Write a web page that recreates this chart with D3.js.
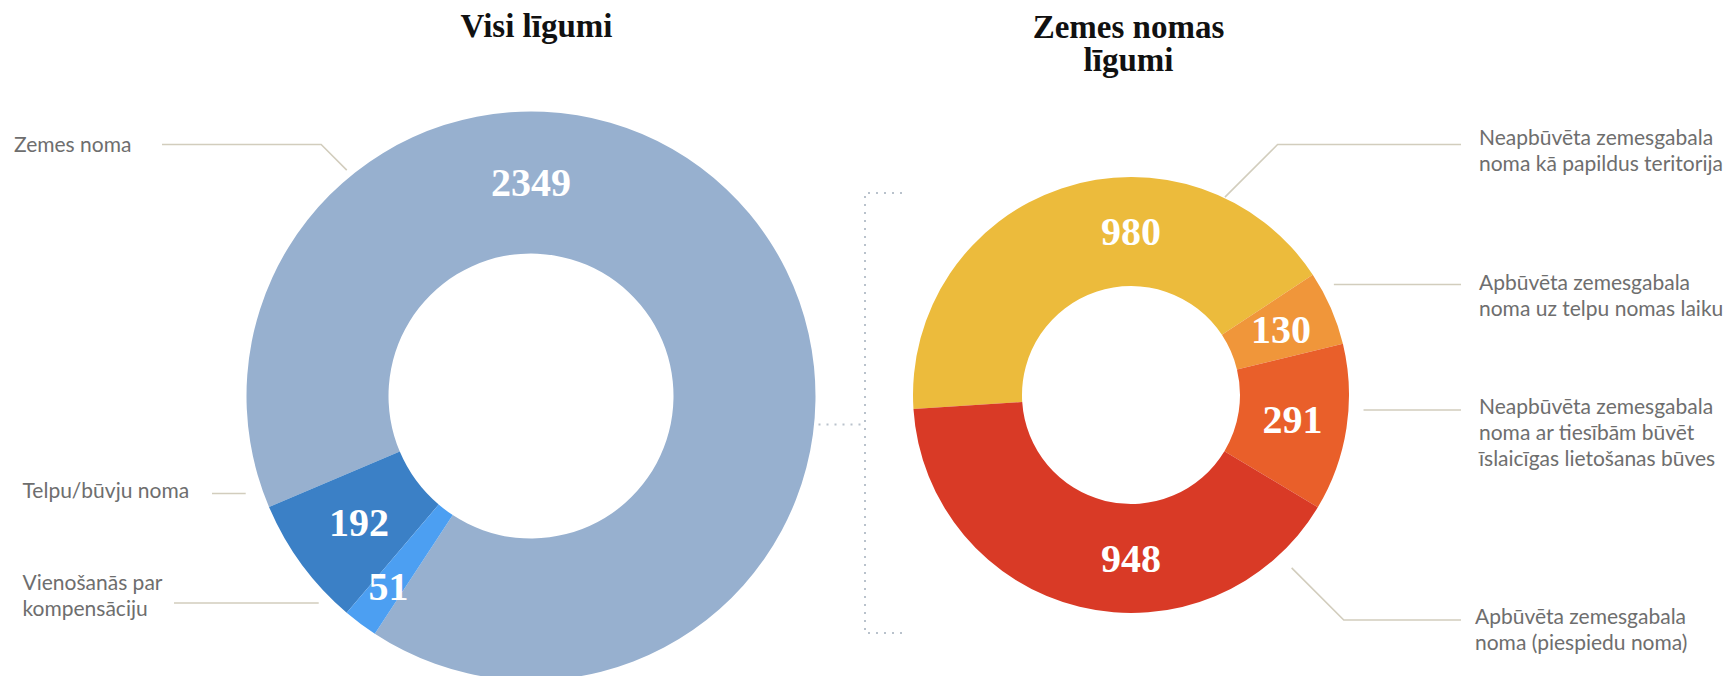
<!DOCTYPE html>
<html>
<head>
<meta charset="utf-8">
<script src="https://cdn.jsdelivr.net/npm/d3@7"></script>
<style>
  body { margin: 0; background: #fff; }
  .title { font-family: 'Liberation Serif', serif; font-weight: bold; font-size: 33px; fill: #111; }
  .value { font-family: 'Liberation Serif', serif; font-weight: bold; font-size: 40px; fill: #fff; }
  .callout { font-family: Lato, 'Noto Sans', sans-serif; font-size: 21px; fill: #6e6e6e; }
</style>
</head>
<body>
<div id="chart"></div>
<script>
// all contracts
const allCategories = ['Zemes noma', 'Telpu/būvju noma', 'Vienošanās par\nkompensāciju'];
const allValues = [2349, 192, 51];
const allColors = ['#97b0cf', '#3b80c6', '#4c9ff2'];

// land lease contracts
const landCategories = [
  'Neapbūvēta zemesgabala\nnoma kā papildus teritorija',
  'Apbūvēta zemesgabala\nnoma uz telpu nomas laiku',
  'Neapbūvēta zemesgabala\nnoma ar tiesībām būvēt\nīslaicīgas lietošanas būves',
  'Apbūvēta zemesgabala\nnoma (piespiedu noma)'
];
const landValues = [980, 130, 291, 948];
const landColors = ['#ecbb3c', '#f0963a', '#e95f2a', '#d93a26'];

const width = 1733, height = 676;
const deg = Math.PI / 180;

const svg = d3.select('#chart')
              .append('svg')
              .attr('width', width)
              .attr('height', height);

function drawDonut(o) {
  const g = svg.append('g').attr('transform', `translate(${o.cx}, ${o.cy})`);

  const pie = d3.pie()
                .sort(null)
                .startAngle(o.start * deg)
                .endAngle((o.start + o.dir * 360) * deg);

  const arc = d3.arc().innerRadius(o.r0).outerRadius(o.r1);
  const arcs = pie(o.values);

  g.selectAll('path')
   .data(arcs)
   .enter()
   .append('path')
   .attr('d', arc)
   .attr('fill', (d, i) => o.colors[i]);

  // value labels: big slices sit at top / bottom, small ones at the centroid
  const mid = (o.r0 + o.r1) / 2;
  g.selectAll('.value')
   .data(arcs)
   .enter()
   .append('text')
   .attr('class', 'value')
   .attr('text-anchor', 'middle')
   .attr('dy', '0.34em')
   .attr('transform', d => {
     const a0 = Math.min(d.startAngle, d.endAngle), a1 = Math.max(d.startAngle, d.endAngle);
     let a = (a0 + a1) / 2, r = mid;
     if (a1 - a0 > Math.PI / 2) {
       const tau = 2 * Math.PI;
       const has = t => [t - tau, t, t + tau].some(v => v >= a0 && v <= a1);
       a = has(0) ? 0 : (has(Math.PI) ? Math.PI : a);
     }
     if (a1 - a0 < 10 * deg) r = mid + 24;
     return `translate(${r * Math.sin(a)}, ${-r * Math.cos(a)})`;
   })
   .text(d => d.data);

  // callouts
  o.callouts.forEach((c, i) => {
    const lines = o.categories[i].split('\n');
    const t = svg.append('text')
                 .attr('class', 'callout')
                 .attr('x', c.x)
                 .attr('y', c.y);
    lines.forEach((l, j) => t.append('tspan').attr('x', c.x).attr('dy', j ? 26 : 0).text(l));

    const side = c.lineEnd < o.cx ? -1 : 1;
    const rr = o.r1 + c.gap;
    let p0;
    if (c.angle !== undefined) {
      p0 = [o.cx + rr * Math.sin(c.angle * deg), o.cy - rr * Math.cos(c.angle * deg)];
    } else {
      const dy = c.lineY - o.cy;
      p0 = [o.cx + side * Math.sqrt(rr * rr - dy * dy), c.lineY];
    }
    const elbow = [p0[0] + side * Math.abs(c.lineY - p0[1]), c.lineY];
    svg.append('path')
       .attr('d', d3.line()([p0, elbow, [c.lineEnd, c.lineY]]))
       .attr('fill', 'none')
       .attr('stroke', '#d2cdbd')
       .attr('stroke-width', 1.6);
  });
}

drawDonut({
  cx: 531, cy: 396, r0: 142.5, r1: 284.5,
  start: 213.3, dir: -1,
  values: allValues, colors: allColors, categories: allCategories,
  callouts: [
    { x: 14, y: 151.5, lineY: 144.5, lineEnd: 162, angle: 320.8, gap: 7 },
    { x: 22.5, y: 498, lineY: 493.5, lineEnd: 212, gap: 17 },
    { x: 22.5, y: 590, lineY: 603, lineEnd: 174, gap: 12 }
  ]
});

drawDonut({
  cx: 1131, cy: 395, r0: 109, r1: 218,
  start: -93.7, dir: 1,
  values: landValues, colors: landColors, categories: landCategories,
  callouts: [
    { x: 1479, y: 145, lineY: 144.5, lineEnd: 1461, angle: 25.4, gap: 1 },
    { x: 1479, y: 290, lineY: 284.5, lineEnd: 1461, gap: 13 },
    { x: 1479, y: 414, lineY: 410, lineEnd: 1461, gap: 15 },
    { x: 1475, y: 624, lineY: 620, lineEnd: 1461, angle: 137.1, gap: 18 }
  ]
});

// titles
svg.append('text').attr('class', 'title').attr('text-anchor', 'middle')
   .attr('x', 536.5).attr('y', 37).text('Visi līgumi');
svg.append('text').attr('class', 'title').attr('text-anchor', 'middle')
   .attr('x', 1128.5).attr('y', 38).text('Zemes nomas');
svg.append('text').attr('class', 'title').attr('text-anchor', 'middle')
   .attr('x', 1128.5).attr('y', 70.5).text('līgumi');

// dotted bracket linking the two donuts
svg.append('path')
   .attr('d', d3.line()([[818.5, 424.5], [865, 424.5]]))
   .attr('stroke', '#b9c2cc').attr('stroke-width', 2)
   .attr('stroke-dasharray', '2 6').attr('fill', 'none');
svg.append('path')
   .attr('d', d3.line()([[902, 193], [865, 193], [865, 633], [902, 633]]))
   .attr('stroke', '#b9c2cc').attr('stroke-width', 2)
   .attr('stroke-dasharray', '2 6').attr('fill', 'none');
</script>
</body>
</html>
